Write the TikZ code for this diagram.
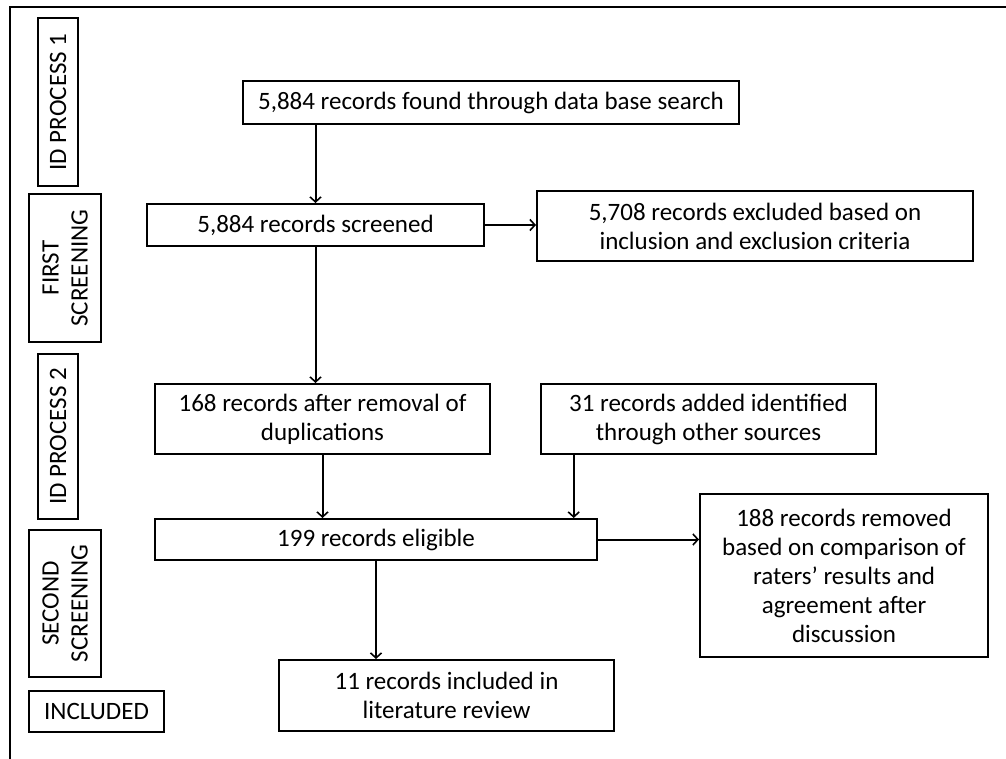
\documentclass[tikz,border=0pt]{standalone}
\usepackage{fontspec}
\setmainfont{Carlito}
\usetikzlibrary{arrows.meta,calc}
\begin{document}
\begin{tikzpicture}[x=1pt,y=-1pt,
  box/.style={draw=black,line width=2pt,align=center,inner sep=0pt,
    font=\fontsize{25}{29}\selectfont,text=black},
  lab/.style={box,rotate=90},
  arr/.style={line width=2pt,-{Straight Barb[length=5pt,width=11pt,line width=1.6pt]}}]
\useasboundingbox (0,0) rectangle (1006,759);
\draw[line width=2.4pt] (10,759) -- (10,7) -- (1006,7);
% stage labels
\node[lab,minimum width=168,minimum height=40] (l1) at (58,102) {ID PROCESS 1};
\node[lab,minimum width=148,minimum height=72] (l2) at (65,268) {FIRST\\SCREENING};
\node[lab,minimum width=165,minimum height=40] (l3) at (58,436.5) {ID PROCESS 2};
\node[lab,minimum width=147,minimum height=72] (l4) at (65,603.5) {SECOND\\SCREENING};
\node[box,minimum width=135,minimum height=41] (l5) at (96.5,711.5) {INCLUDED};
% main boxes
\node[box,minimum width=496,minimum height=43] (b1) at (491,102.5) {5,884 records found through data base search};
\node[box,minimum width=337,minimum height=42] (b2) at (315.5,225) {5,884 records screened};
\node[box,minimum width=436,minimum height=70] (b3) at (755,226) {5,708 records excluded based on\\inclusion and exclusion criteria};
\node[box,minimum width=335,minimum height=70] (b4) at (322.5,419) {168 records after removal of\\duplications};
\node[box,minimum width=335,minimum height=70] (b5) at (708.5,419) {31 records added identified\\through other sources};
\node[box,minimum width=442,minimum height=41] (b6) at (376,539.5) {199 records eligible};
\node[box,minimum width=288,minimum height=163] (b7) at (844,575.5) {188 records removed\\based on comparison of\\raters’ results and\\agreement after\\discussion};
\node[box,minimum width=335,minimum height=71] (b8) at (446.5,695.5) {11 records included in\\literature review};
% connectors
\draw[arr] (b1.south -| b2.north) -- (b2.north);
\draw[arr] (b2.east) -- (b3.west |- b2.east);
\draw[arr] (b2.south) -- (b2.south |- b4.north);
\draw[arr] (b4.south) -- (b4.south |- b6.north);
\coordinate (c5) at ($(b5.south west)!0.1!(b5.south east)$);
\draw[arr] (c5) -- (c5 |- b6.north);
\draw[arr] (b6.east) -- (b7.west |- b6.east);
\draw[arr] (b6.south) -- (b6.south |- b8.north);
\end{tikzpicture}
\end{document}
